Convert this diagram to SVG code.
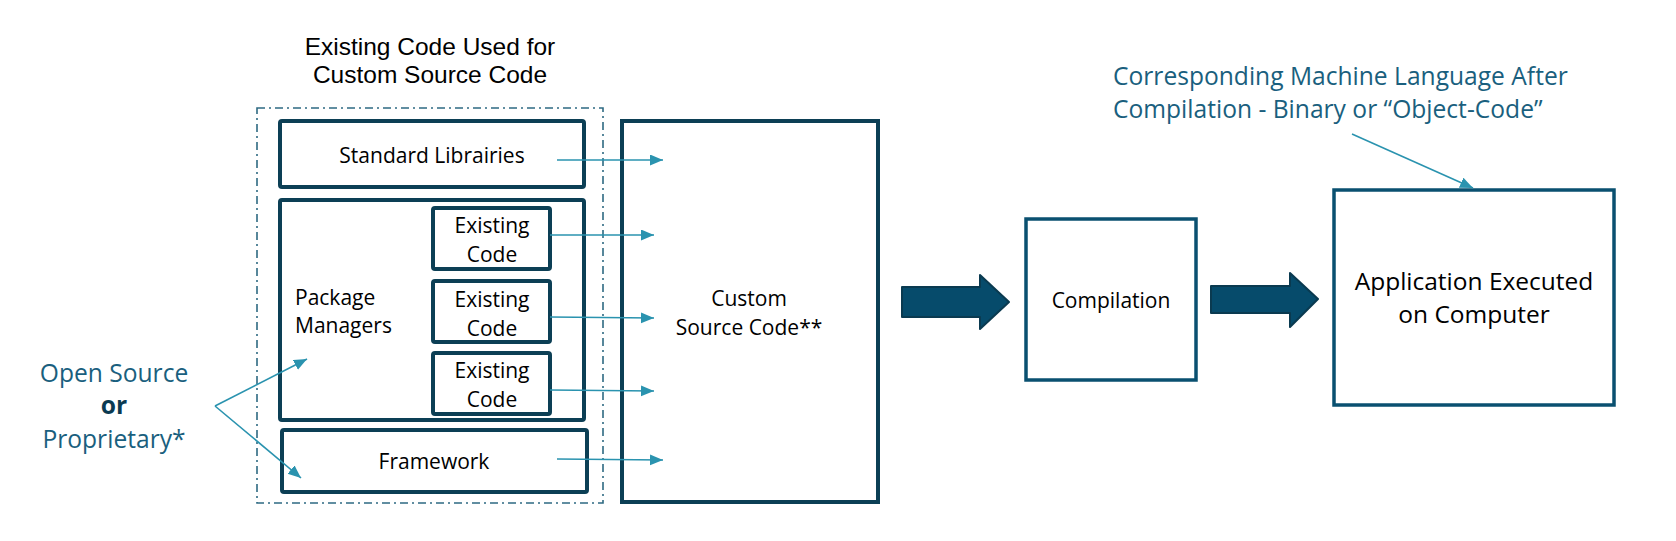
<svg xmlns="http://www.w3.org/2000/svg" width="1676" height="541" viewBox="0 0 1676 541">
<style>
  .bg{fill:#ffffff}
  .box{fill:#ffffff;stroke:#0C3F55;stroke-width:4}
  .box2{fill:#ffffff;stroke:#0A5070;stroke-width:3.5}
  .dash{fill:none;stroke:#2E6A82;stroke-width:1.6;stroke-dasharray:8 4 2 4}
  .t{font-family:"Open Sans","DejaVu Sans",sans-serif;font-size:21px;fill:#000000}
  .t24{font-family:"Open Sans","DejaVu Sans",sans-serif;font-size:24.5px;fill:#000000}
  .title{font-family:"Liberation Sans",Arial,sans-serif;font-size:24.5px;fill:#000000}
  .teal{font-family:"Open Sans","DejaVu Sans",sans-serif;font-size:24.6px;fill:#1A5F7E}
  .conn{stroke:#2A93AF;stroke-width:1.6;fill:none}
  .big{fill:#064B6B;stroke:#0A3A50;stroke-width:2;stroke-linejoin:round}
</style>
<defs>
  <marker id="ah" markerUnits="userSpaceOnUse" markerWidth="14" markerHeight="12" refX="13" refY="5.5" orient="auto">
    <path d="M0,0 L13,5.5 L0,11 z" fill="#2A93AF"/>
  </marker>
</defs>
<rect class="bg" x="0" y="0" width="1676" height="541"/>

<g id="title">
  <text class="title" x="430" y="55" text-anchor="middle">Existing Code Used for</text>
  <text class="title" x="430" y="83" text-anchor="middle">Custom Source Code</text>
</g>

<g id="existing-code-group">
  <rect class="dash" x="257" y="108" width="346" height="395"/>
</g>

<g id="standard-libraries">
  <rect class="box" x="280" y="121" width="304" height="66" rx="2"/>
  <text class="t" x="432" y="163" text-anchor="middle">Standard Librairies</text>
</g>

<g id="package-managers">
  <rect class="box" x="280" y="200" width="304" height="220" rx="2"/>
  <text class="t" x="295" y="305">Package</text>
  <text class="t" x="295" y="333">Managers</text>
</g>

<g id="existing-code-1">
  <rect class="box" x="433" y="208" width="117" height="61" rx="2"/>
  <text class="t" x="492" y="233" text-anchor="middle">Existing</text>
  <text class="t" x="492" y="262" text-anchor="middle">Code</text>
</g>

<g id="existing-code-2">
  <rect class="box" x="433" y="281" width="117" height="61" rx="2"/>
  <text class="t" x="492" y="307" text-anchor="middle">Existing</text>
  <text class="t" x="492" y="336" text-anchor="middle">Code</text>
</g>

<g id="existing-code-3">
  <rect class="box" x="433" y="353" width="117" height="61" rx="2"/>
  <text class="t" x="492" y="378" text-anchor="middle">Existing</text>
  <text class="t" x="492" y="407" text-anchor="middle">Code</text>
</g>

<g id="framework">
  <rect class="box" x="282" y="430" width="305" height="62" rx="2"/>
  <text class="t" x="434" y="469" text-anchor="middle">Framework</text>
</g>

<g id="custom-source-code">
  <rect class="box" x="622" y="121" width="256" height="381"/>
  <text class="t" x="749" y="306" text-anchor="middle">Custom</text>
  <text class="t" x="749" y="335" text-anchor="middle">Source Code**</text>
</g>

<g id="compilation">
  <rect class="box2" x="1026" y="219" width="170" height="161"/>
  <text class="t" x="1111" y="308" text-anchor="middle">Compilation</text>
</g>

<g id="application">
  <rect class="box2" x="1334" y="190" width="280" height="215"/>
  <text class="t24" x="1474" y="290" text-anchor="middle">Application Executed</text>
  <text class="t24" x="1474" y="323" text-anchor="middle">on Computer</text>
</g>

<g id="open-source-label">
  <text class="teal" x="114" y="382" text-anchor="middle">Open Source</text>
  <text class="teal" x="114" y="414" text-anchor="middle" font-weight="bold" style="fill:#0B3A52">or</text>
  <text class="teal" x="114" y="448" text-anchor="middle">Proprietary*</text>
</g>

<g id="machine-language-label">
  <text class="teal" x="1113" y="85">Corresponding Machine Language After</text>
  <text class="teal" x="1113" y="118">Compilation - Binary or “Object-Code”</text>
</g>

<g id="connectors">
  <line class="conn" x1="557" y1="160" x2="663" y2="160" marker-end="url(#ah)"/>
  <line class="conn" x1="550" y1="235" x2="654" y2="235" marker-end="url(#ah)"/>
  <line class="conn" x1="550" y1="317" x2="654" y2="318" marker-end="url(#ah)"/>
  <line class="conn" x1="550" y1="390" x2="654" y2="391" marker-end="url(#ah)"/>
  <line class="conn" x1="557" y1="459" x2="663" y2="460" marker-end="url(#ah)"/>
  <line class="conn" x1="215" y1="406" x2="307" y2="359" marker-end="url(#ah)"/>
  <line class="conn" x1="215" y1="406" x2="301" y2="478" marker-end="url(#ah)"/>
  <line class="conn" x1="1352" y1="134" x2="1473" y2="188" marker-end="url(#ah)"/>
  <polygon class="big" points="902,287 980,287 980,275 1009,302 980,329 980,317 902,317"/>
  <polygon class="big" points="1211,286 1290,286 1290,273 1318,299 1290,327 1290,313 1211,313"/>
</g>
</svg>
